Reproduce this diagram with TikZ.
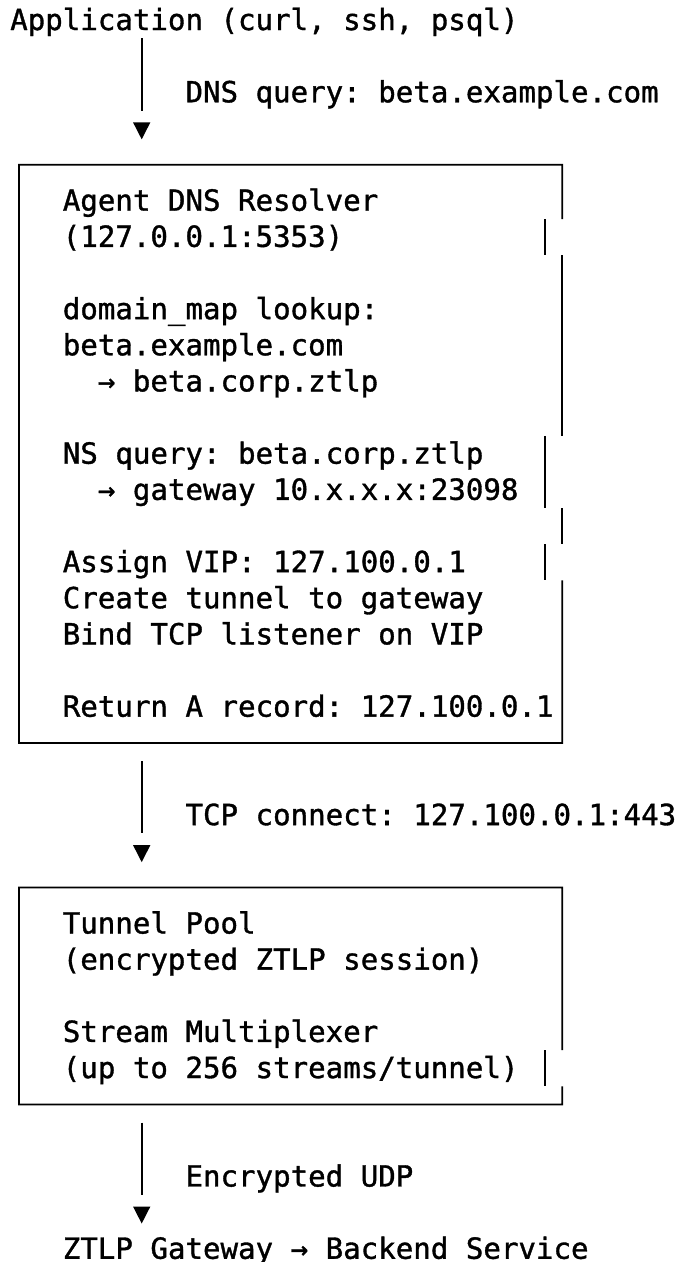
\documentclass[tikz,border=0pt]{standalone}
\usepackage{fontspec}
\setmainfont{DejaVu Sans Mono}[FakeBold=1.2]
\frenchspacing
% column left edge: 10.24 + 17.526*c ; row centre: 20.2 + 36.14*r ; baseline = centre + 9.8
\newcommand\tline[4]{\node[txt] (#1) at ({10.24+17.526*(#2)},{30.0+36.14*(#3)}) {#4};}
\tikzset{
  txt/.style={anchor=base west, inner sep=0pt, outer sep=0pt,
    font=\fontsize{29.11}{36.14}\selectfont\frenchspacing, text=black},
  border/.style={line width=1.8pt, line join=miter, line cap=butt, draw=black},
  shaft/.style={line width=1.8pt, draw=black},
  tipfill/.style={fill=black},
  boxnode/.style={inner sep=0pt, outer sep=0pt, minimum width=543.3pt},
}
\begin{document}
\begin{tikzpicture}[x=1pt,y=-1pt]
\useasboundingbox (0,0) rectangle (678,1262);
\fill[white] (0,0) rectangle (678,1262);

% ---- texts outside boxes
\tline{app}{0}{0}{Application (curl, ssh, psql)}
\tline{lbldns}{10}{2}{DNS query: beta.example.com}
\tline{lbltcp}{10}{22}{TCP connect: 127.100.0.1:443}
\tline{lbludp}{10}{32}{Encrypted UDP}
\tline{gw}{3}{34}{ZTLP Gateway → Backend Service}

% ---- box 1 : resolver
\node[boxnode, minimum height=578.24pt] (resolver) at (290.65,453.88) {};
\draw[border] (562.3,219.0) -- (resolver.north east) -- (resolver.north west)
  -- (resolver.south west) -- (resolver.south east) -- (562.3,580.3);
\draw[border] (544.8,219.0) -- (544.8,255.1);
\draw[border] (562.3,255.1) -- (562.3,435.8);
\draw[border] (544.8,435.8) -- (544.8,508.1);
\draw[border] (562.3,508.1) -- (562.3,544.2);
\draw[border] (544.8,544.2) -- (544.8,580.3);

\tline{r1}{3}{5}{Agent DNS Resolver}
\tline{r2}{3}{6}{(127.0.0.1:5353)}
\tline{r3}{3}{8}{domain\_map lookup:}
\tline{r4}{3}{9}{beta.example.com}
\tline{r5}{5}{10}{→ beta.corp.ztlp}
\tline{r6}{3}{12}{NS query: beta.corp.ztlp}
\tline{r7}{5}{13}{→ gateway 10.x.x.x:23098}
\tline{r8}{3}{15}{Assign VIP: 127.100.0.1}
\tline{r9}{3}{16}{Create tunnel to gateway}
\tline{r10}{3}{17}{Bind TCP listener on VIP}
\tline{r11}{3}{19}{Return A record: 127.100.0.1}

% ---- box 2 : tunnel pool
\node[boxnode, minimum height=216.84pt] (pool) at (290.65,995.98) {};
\draw[border] (562.3,1050.2) -- (pool.north east) -- (pool.north west)
  -- (pool.south west) -- (pool.south east) -- (562.3,1086.3);
\draw[border] (544.8,1050.2) -- (544.8,1086.3);

\tline{p1}{3}{25}{Tunnel Pool}
\tline{p2}{3}{26}{(encrypted ZTLP session)}
\tline{p3}{3}{28}{Stream Multiplexer}
\tline{p4}{3}{29}{(up to 256 streams/tunnel)}

% ---- connectors
\coordinate (s1a) at (141.7,38.27);
\coordinate (s1b) at (141.7,110.55);
\coordinate (t1) at (141.7,128.62);
\coordinate (s2a) at (141.7,761.1);
\coordinate (s2b) at (141.7,833.2);
\coordinate (t2) at (141.7,851.4);
\coordinate (s3a) at (141.7,1122.5);
\coordinate (s3b) at (141.7,1194.7);
\coordinate (t3) at (141.7,1212.8);

\draw[shaft] (s1a) -- (s1b);
\fill[tipfill] (t1) ++(-8.7,-6.3) -- ++(17.4,0) -- ++(-8.7,17) -- cycle;
\draw[shaft] (s2a) -- (s2b);
\fill[tipfill] (t2) ++(-8.7,-6.3) -- ++(17.4,0) -- ++(-8.7,17) -- cycle;
\draw[shaft] (s3a) -- (s3b);
\fill[tipfill] (t3) ++(-8.7,-6.3) -- ++(17.4,0) -- ++(-8.7,17) -- cycle;
\end{tikzpicture}
\end{document}
